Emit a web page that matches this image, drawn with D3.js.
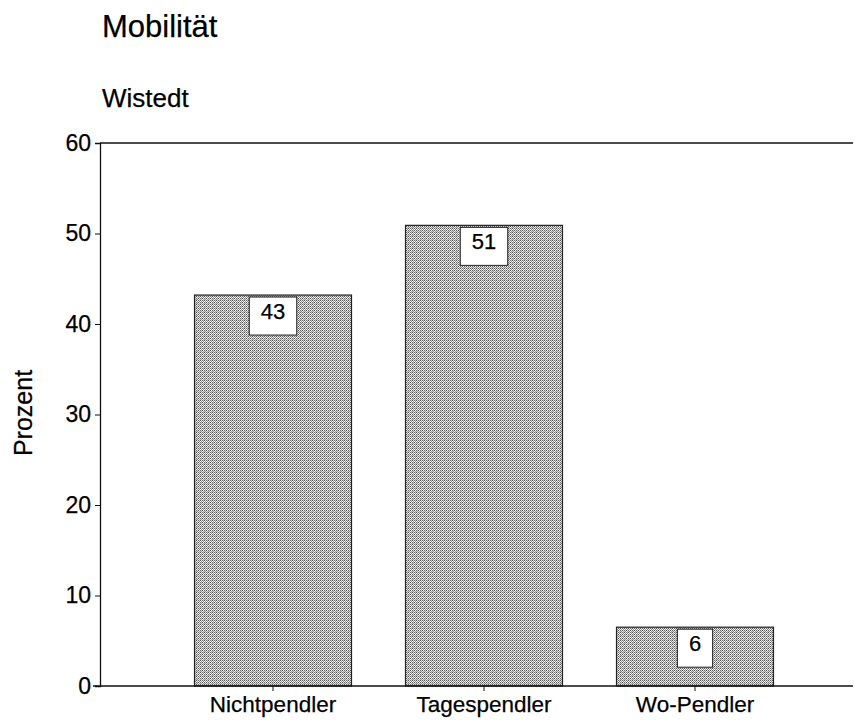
<!DOCTYPE html>
<html>
<head>
<meta charset="utf-8">
<script src="https://cdn.jsdelivr.net/npm/d3@7"></script>
<style>
  html, body { margin: 0; padding: 0; background: #fff; }
  svg { display: block; font-family: Arial, "Liberation Sans", sans-serif; }
  text { stroke: #000; stroke-width: 0.25px; }
</style>
</head>
<body>
<svg id="chart" width="855" height="720"></svg>
<script>
const categories = ["Nichtpendler", "Tagespendler", "Wo-Pendler"];
const values = [43.2, 50.9, 6.5];
const labels = ["43", "51", "6"];
const yTicks = [0, 10, 20, 30, 40, 50, 60];
const title = "Mobilität";
const subtitle = "Wistedt";
const yTitle = "Prozent";

const svg = d3.select("#chart");
const plotLeft = 100, plotRight = 853, plotTop = 143, plotBottom = 686;

const y = d3.scaleLinear().domain([0, 60]).range([plotBottom, plotTop]);
const x = d3.scaleBand().domain(categories).range([167.5, 800.5])
  .paddingInner(0.256).paddingOuter(0.128);

// dithered gray pattern
const defs = svg.append("defs");
const pat = defs.append("pattern").attr("id", "dither")
  .attr("patternUnits", "userSpaceOnUse").attr("width", 4).attr("height", 4);
pat.append("rect").attr("width", 4).attr("height", 4).attr("fill", "#b4b4b4");
const dots = [
  [0,0,"#555"],[1,0,"#e6e6e6"],[2,0,"#666"],[3,0,"#d0d0d0"],
  [0,1,"#f4f4f4"],[1,1,"#999"],[2,1,"#fff"],[3,1,"#888"],
  [0,2,"#6a6a6a"],[1,2,"#ddd"],[2,2,"#4a4a4a"],[3,2,"#eee"],
  [0,3,"#ccc"],[1,3,"#8a8a8a"],[2,3,"#f0f0f0"],[3,3,"#a0a0a0"]
];
dots.forEach(d => pat.append("rect").attr("x", d[0]).attr("y", d[1])
  .attr("width", 1).attr("height", 1).attr("fill", d[2]));

// titles
svg.append("text").attr("x", 102).attr("y", 37).attr("font-size", 31).text(title);
svg.append("text").attr("x", 102).attr("y", 107).attr("font-size", 26).text(subtitle);

// y title
svg.append("text").attr("transform", "translate(32,413) rotate(-90)")
  .attr("text-anchor", "middle").attr("font-size", 25).text(yTitle);

// bars
svg.selectAll("rect.bar").data(values).enter().append("rect")
  .attr("class", "bar")
  .attr("x", (d, i) => x(categories[i]))
  .attr("y", d => y(d))
  .attr("width", x.bandwidth())
  .attr("height", d => y(0) - y(d))
  .attr("fill", "url(#dither)")
  .attr("stroke", "#222").attr("stroke-width", 1.2);

// top frame line
svg.append("line").attr("x1", plotLeft).attr("x2", plotRight).attr("y1", plotTop).attr("y2", plotTop)
  .attr("stroke", "#111").attr("stroke-width", 1.3);

// y axis
const yAxis = d3.axisLeft(y).tickValues(yTicks).tickSize(5).tickPadding(4);
const gy = svg.append("g").attr("transform", `translate(${plotLeft},0)`).call(yAxis);
gy.select(".domain").attr("stroke", "#111").attr("stroke-width", 1.3);
gy.selectAll(".tick line").attr("stroke", "#111");
gy.selectAll(".tick text").attr("font-size", 23).attr("fill", "#000")
  .attr("font-family", "Arial, 'Liberation Sans', sans-serif");

// x axis
const xAxis = d3.axisBottom(x).tickSize(5).tickPadding(5).tickSizeOuter(0);
const gx = svg.append("g").attr("transform", `translate(0,${plotBottom})`).call(xAxis);
gx.select(".domain").remove();
gx.selectAll(".tick line").attr("stroke", "#111");
gx.selectAll(".tick text").attr("font-size", 22.5).attr("fill", "#000")
  .attr("font-family", "Arial, 'Liberation Sans', sans-serif");
svg.append("line").attr("x1", 93).attr("x2", plotRight).attr("y1", plotBottom).attr("y2", plotBottom)
  .attr("stroke", "#111").attr("stroke-width", 1.3);

// value labels in boxes
const lg = svg.selectAll("g.lbl").data(values).enter().append("g").attr("class", "lbl");
lg.each(function(d, i) {
  const g = d3.select(this);
  const cx = x(categories[i]) + x.bandwidth() / 2;
  const t = g.append("text").attr("x", cx).attr("y", y(d) + 24)
    .attr("text-anchor", "middle").attr("font-size", 22).text(labels[i]);
  const w = t.node().getComputedTextLength() + 23;
  g.insert("rect", "text").attr("x", cx - w / 2).attr("y", y(d) + 2)
    .attr("width", w).attr("height", 38)
    .attr("fill", "#fff").attr("stroke", "#222").attr("stroke-width", 1);
});
</script>
</body>
</html>
